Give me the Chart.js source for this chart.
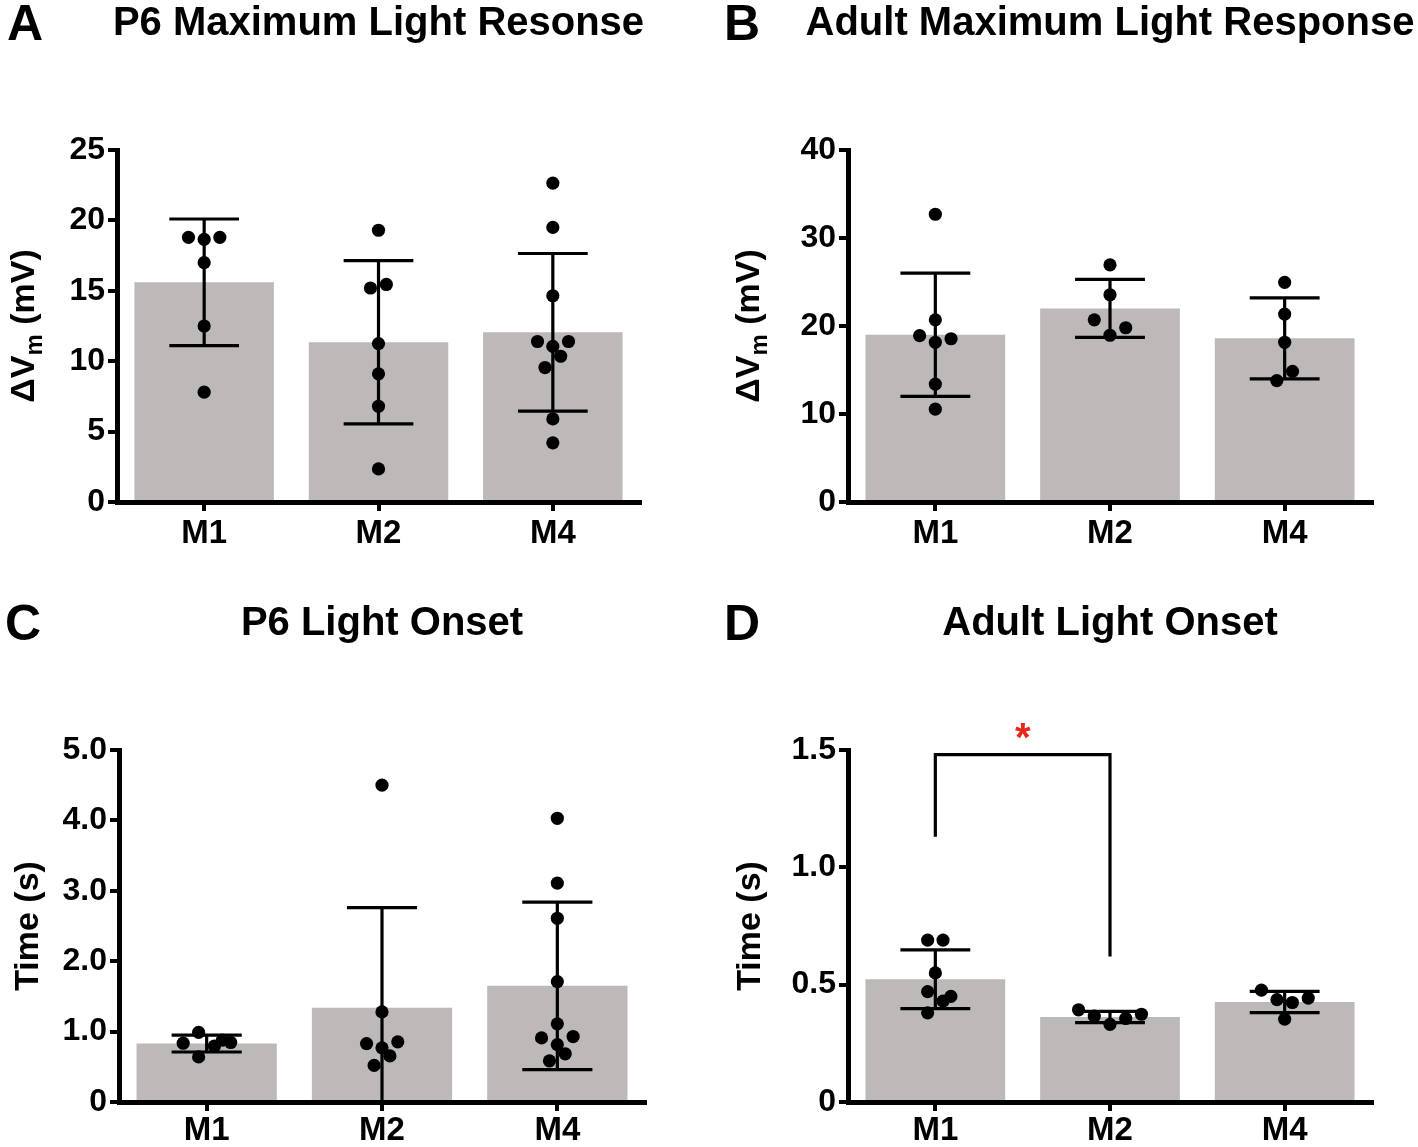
<!DOCTYPE html>
<html>
<head>
<meta charset="utf-8">
<script src="https://cdn.jsdelivr.net/npm/chart.js@4.4.0/dist/chart.umd.min.js"></script>
<style>
  body { margin: 0; background: #fff; }
  canvas { position: absolute; }
</style>
</head>
<body>
<canvas id="panelA" width="709" height="573" style="left:0;top:0"></canvas>
<canvas id="panelB" width="709" height="573" style="left:709px;top:0"></canvas>
<canvas id="panelC" width="709" height="574" style="left:0;top:573px"></canvas>
<canvas id="panelD" width="709" height="574" style="left:709px;top:573px"></canvas>
<script>
// groups on the x axis
const groups = ['M1', 'M2', 'M4'];

// A: P6 max light response (mV)
const aMeans = [15.6, 11.35, 12.05];
const aSD = [4.5, 5.8, 5.6];
const aPoints = [
  [18.8, 18.65, 18.8, 17.0, 12.5, 7.8],
  [19.3, 15.2, 15.45, 11.25, 9.1, 6.8, 2.35],
  [22.65, 19.5, 14.65, 11.4, 11.05, 11.4, 10.35, 9.55, 5.9, 4.2]
];
const aJitter = [
  [-0.09, 0, 0.09, 0, 0, 0],
  [0, -0.046, 0.045, 0, 0, 0, 0],
  [0, 0, 0, -0.088, 0, 0.09, 0.045, -0.045, 0, 0]
];

// B: adult max light response (mV)
const bMeans = [19.0, 22.0, 18.6];
const bSD = [7.0, 3.3, 4.6];
const bPoints = [
  [32.7, 20.7, 18.9, 18.55, 18.15, 13.4, 10.55],
  [26.95, 23.55, 20.7, 19.8, 18.95],
  [24.95, 21.35, 18.15, 14.85, 13.8]
];
const bJitter = [
  [0, 0, -0.09, 0.09, 0, 0, 0],
  [0, 0, -0.09, 0.09, 0],
  [0, 0, 0, 0.045, -0.045]
];

// C: P6 light onset (s)
const cMeans = [0.83, 1.34, 1.65];
const cSD = [0.12, 1.42, 1.19];
const cPoints = [
  [0.99, 0.835, 0.64, 0.795, 0.88, 0.845],
  [4.5, 1.28, 0.855, 0.83, 0.77, 0.655, 0.52],
  [4.03, 3.11, 2.61, 1.71, 1.11, 0.93, 0.91, 0.815, 0.685, 0.585]
];
const cJitter = [
  [-0.046, -0.134, -0.046, 0.044, 0.09, 0.137],
  [0, 0, 0.09, -0.088, 0, 0.045, -0.045],
  [0, 0, 0, 0, 0, 0.09, -0.09, 0, 0.045, -0.045]
];

// D: adult light onset (s)
const dMeans = [0.523, 0.362, 0.426];
const dSD = [0.125, 0.024, 0.045];
const dPoints = [
  [0.69, 0.69, 0.55, 0.47, 0.45, 0.43, 0.38],
  [0.393, 0.374, 0.366, 0.356, 0.331],
  [0.477, 0.443, 0.436, 0.424, 0.353]
];
const dJitter = [
  [-0.044, 0.044, 0, -0.044, 0.089, 0.044, -0.044],
  [-0.18, 0.18, -0.09, 0.09, 0],
  [-0.133, 0.135, -0.044, 0.044, 0]
];
// significance bracket M1 vs M2: [from, to], top, left leg end, right leg end, star
const dBracketGroups = [0, 1];
const dBracketLevels = [1.48, 1.13, 0.62];
const dStarLevel = 1.575;

const FONT = '"Liberation Sans", Arial, sans-serif';
const BAR_GRAY = 'rgb(189, 185, 184)';

function fmtTenth(v) {
  return v === 0 ? '0' : v.toFixed(1);
}

function makePanel(id, cfg) {
  const canvas = document.getElementById(id);
  const W = canvas.width, H = canvas.height;
  const area = cfg.area;

  const dots = [];
  cfg.points.forEach((vals, i) => {
    vals.forEach((v, j) => dots.push({ x: i + cfg.jitter[i][j], y: v }));
  });

  const decor = {
    id: 'decor',
    afterDatasetDraw(chart, args) {
      if (args.index !== 0) return;
      const ctx = chart.ctx;
      const xs = chart.scales.xd, ys = chart.scales.y;
      ctx.save();
      ctx.strokeStyle = '#000';
      ctx.lineWidth = 3.2;
      cfg.means.forEach((m, i) => {
        const cx = xs.getPixelForValue(i);
        const half = xs.getPixelForValue(i + 0.2) - cx;
        const hi = m + cfg.sd[i];
        const lo = m - cfg.sd[i];
        const yHi = ys.getPixelForValue(hi);
        const yLo = ys.getPixelForValue(Math.max(lo, 0));
        ctx.beginPath();
        ctx.moveTo(cx, yHi);
        ctx.lineTo(cx, yLo);
        ctx.moveTo(cx - half, yHi);
        ctx.lineTo(cx + half, yHi);
        if (lo > 0) {
          ctx.moveTo(cx - half, yLo);
          ctx.lineTo(cx + half, yLo);
        }
        ctx.stroke();
      });
      ctx.restore();
    },
    afterDraw(chart) {
      const ctx = chart.ctx;
      const ca = chart.chartArea;
      ctx.save();
      ctx.fillStyle = '#000';
      ctx.textBaseline = 'alphabetic';
      // panel letter
      ctx.font = 'bold 50px ' + FONT;
      ctx.textAlign = 'left';
      ctx.fillText(cfg.letter, cfg.letterX, cfg.letterY);
      // title
      ctx.font = 'bold 40px ' + FONT;
      ctx.textAlign = 'center';
      ctx.fillText(cfg.title, (ca.left + ca.right) / 2, cfg.titleY);
      // rotated y title with optional subscript
      ctx.translate(cfg.yTitleX, (ca.top + ca.bottom) / 2);
      ctx.rotate(-Math.PI / 2);
      ctx.textAlign = 'left';
      let total = 0;
      cfg.yTitle.forEach(p => {
        ctx.font = 'bold ' + p.size + 'px ' + FONT;
        total += ctx.measureText(p.text).width;
      });
      let x = -total / 2;
      cfg.yTitle.forEach(p => {
        ctx.font = 'bold ' + p.size + 'px ' + FONT;
        ctx.fillText(p.text, x, 12 + (p.shift || 0));
        x += ctx.measureText(p.text).width;
      });
      ctx.restore();

      if (cfg.bracket) {
        const xs = chart.scales.xd, ys = chart.scales.y;
        const x1 = xs.getPixelForValue(cfg.bracket.groups[0]);
        const x2 = xs.getPixelForValue(cfg.bracket.groups[1]);
        const yTop = ys.getPixelForValue(cfg.bracket.levels[0]);
        ctx.save();
        ctx.strokeStyle = '#000';
        ctx.lineWidth = 3.2;
        ctx.beginPath();
        ctx.moveTo(x1, ys.getPixelForValue(cfg.bracket.levels[1]));
        ctx.lineTo(x1, yTop);
        ctx.lineTo(x2, yTop);
        ctx.lineTo(x2, ys.getPixelForValue(cfg.bracket.levels[2]));
        ctx.stroke();
        ctx.fillStyle = 'rgb(230, 40, 28)';
        ctx.font = 'bold 40px ' + FONT;
        ctx.textAlign = 'center';
        ctx.textBaseline = 'middle';
        ctx.fillText('*', (x1 + x2) / 2, ys.getPixelForValue(cfg.bracket.star) + 8);
        ctx.restore();
      }
    }
  };

  return new Chart(canvas, {
    data: {
      labels: groups,
      datasets: [
        {
          type: 'bar',
          data: cfg.means,
          backgroundColor: BAR_GRAY,
          borderWidth: 0,
          grouped: false,
          barPercentage: 0.8,
          categoryPercentage: 1,
          order: 2,
          xAxisID: 'x',
          yAxisID: 'y'
        },
        {
          type: 'scatter',
          data: dots,
          backgroundColor: '#000',
          borderWidth: 0,
          pointRadius: 6.6,
          pointHoverRadius: 6.6,
          order: 1,
          xAxisID: 'xd',
          yAxisID: 'y'
        }
      ]
    },
    options: {
      responsive: false,
      animation: false,
      events: [],
      layout: { padding: { left: 0, top: area.top, right: W - area.right, bottom: 0 } },
      plugins: { legend: { display: false }, tooltip: { enabled: false } },
      scales: {
        x: {
          type: 'category',
          offset: true,
          grid: { drawOnChartArea: false, offset: false, color: '#000', lineWidth: 4, tickLength: 9 },
          border: { display: true, color: '#000', width: 5 },
          ticks: { color: '#000', padding: cfg.xPad, font: { family: FONT, size: 33, weight: 'bold' } },
          afterFit(s) { s.height = H - area.bottom; }
        },
        xd: { type: 'linear', display: false, min: -0.5, max: 2.5 },
        y: {
          min: 0,
          max: cfg.yMax,
          grid: { drawOnChartArea: false, color: '#000', lineWidth: 4, tickLength: 9 },
          border: { display: true, color: '#000', width: 5 },
          ticks: {
            stepSize: cfg.yStep,
            color: '#000',
            padding: 3,
            font: { family: FONT, size: 32, weight: 'bold' },
            callback: cfg.tickFmt
          },
          afterFit(s) { s.width = area.left; }
        }
      }
    },
    plugins: [decor]
  });
}

const dvmTitle = [
  { text: 'ΔV', size: 34 },
  { text: 'm', size: 24, shift: 8 },
  { text: ' (mV)', size: 34 }
];
const timeTitle = [{ text: 'Time (s)', size: 34 }];

makePanel('panelA', {
  letter: 'A', letterX: 7, letterY: 40, title: 'P6 Maximum Light Resonse', titleY: 35,
  yTitle: dvmTitle, yTitleX: 22, xPad: 3,
  means: aMeans, sd: aSD, points: aPoints, jitter: aJitter,
  yMax: 25, yStep: 5, tickFmt: v => String(v),
  area: { left: 117, right: 640, top: 150, bottom: 502 }
});
makePanel('panelB', {
  letter: 'B', letterX: 15, letterY: 40, title: 'Adult Maximum Light Response', titleY: 35,
  yTitle: dvmTitle, yTitleX: 38, xPad: 3,
  means: bMeans, sd: bSD, points: bPoints, jitter: bJitter,
  yMax: 40, yStep: 10, tickFmt: v => String(v),
  area: { left: 139, right: 663, top: 150, bottom: 502 }
});
makePanel('panelC', {
  letter: 'C', letterX: 5, letterY: 67, title: 'P6 Light Onset', titleY: 62,
  yTitle: timeTitle, yTitleX: 26, xPad: 0,
  means: cMeans, sd: cSD, points: cPoints, jitter: cJitter,
  yMax: 5, yStep: 1, tickFmt: fmtTenth,
  area: { left: 119, right: 645, top: 177, bottom: 529 }
});
makePanel('panelD', {
  letter: 'D', letterX: 15, letterY: 67, title: 'Adult Light Onset', titleY: 62,
  yTitle: timeTitle, yTitleX: 39, xPad: 0,
  means: dMeans, sd: dSD, points: dPoints, jitter: dJitter,
  yMax: 1.5, yStep: 0.5, tickFmt: fmtTenth,
  area: { left: 139, right: 663, top: 177, bottom: 529 },
  bracket: { groups: dBracketGroups, levels: dBracketLevels, star: dStarLevel }
});
</script>
</body>
</html>
